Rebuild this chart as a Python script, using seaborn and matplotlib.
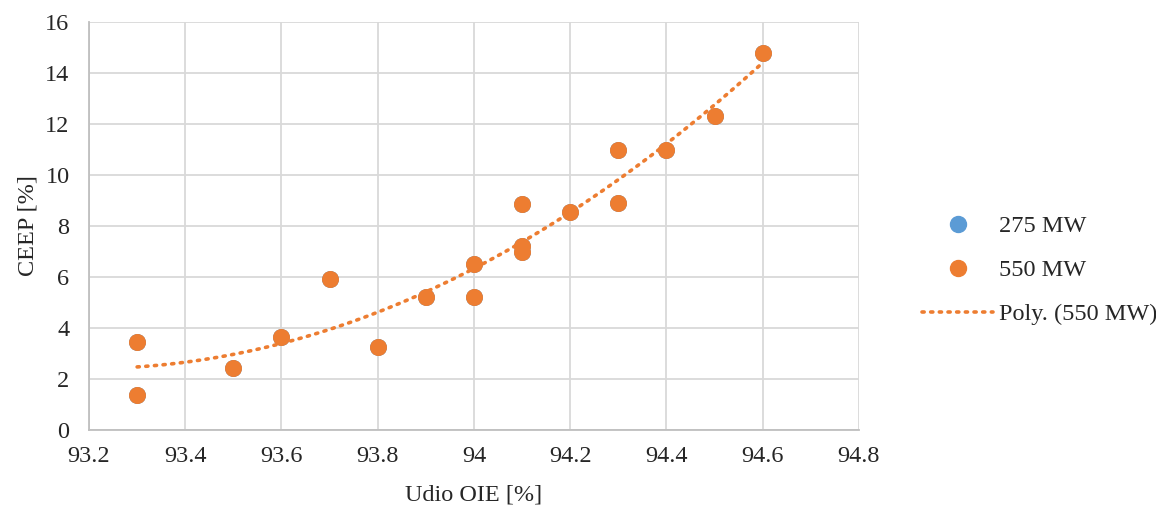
import matplotlib
matplotlib.use("Agg")
import matplotlib.pyplot as plt
from matplotlib.lines import Line2D
import pandas as pd
import seaborn as sns

# Udio OIE [%] and CEEP [%] for both plant sizes (275 MW sits under 550 MW)
udio_oie = [93.3, 93.3, 93.5, 93.6, 93.7, 93.8, 93.9, 94.0, 94.0,
            94.1, 94.1, 94.1, 94.2, 94.3, 94.3, 94.4, 94.5, 94.6]
ceep_275 = [3.45, 1.38, 2.43, 3.65, 5.93, 3.25, 5.2, 6.5, 5.2,
            8.86, 7.2, 6.98, 8.55, 10.97, 8.9, 10.97, 12.3, 14.77]
ceep_550 = [3.45, 1.38, 2.43, 3.65, 5.93, 3.25, 5.2, 6.5, 5.2,
            8.86, 7.2, 6.98, 8.55, 10.97, 8.9, 10.97, 12.3, 14.77]

BLUE = "#5B9BD5"
ORANGE = "#ED7D31"
FS = 17.5

sns.set_style("white")
plt.rcParams["font.family"] = ["Liberation Serif", "DejaVu Serif"]
plt.rcParams["font.size"] = FS

df_275 = pd.DataFrame({"x": udio_oie, "y": ceep_275})
df_550 = pd.DataFrame({"x": udio_oie, "y": ceep_550})

fig = plt.figure(figsize=(11.56, 5.08), dpi=100)
ax = fig.add_axes([0.077, 0.154, 0.666, 0.803])

sns.scatterplot(data=df_275, x="x", y="y", color=BLUE, s=150, linewidth=0, ax=ax, zorder=3)
sns.scatterplot(data=df_550, x="x", y="y", color=ORANGE, s=150, linewidth=0, ax=ax, zorder=4)
sns.regplot(data=df_550, x="x", y="y", order=2, ci=None, scatter=False, ax=ax,
            line_kws=dict(color=ORANGE, lw=2.6, linestyle=(0, (0.6, 1.8)),
                          dash_capstyle="round", zorder=5))

ax.set_xlim(93.2, 94.8)
ax.set_ylim(0, 16)
ax.set_xticks([93.2, 93.4, 93.6, 93.8, 94.0, 94.2, 94.4, 94.6, 94.8])
ax.set_xticklabels(["93.2", "93.4", "93.6", "93.8", "94", "94.2", "94.4", "94.6", "94.8"])
ax.set_yticks(range(0, 17, 2))
ax.grid(True, color="#d9d9d9", linewidth=1.3)
ax.set_axisbelow(True)
for side in ["top", "right"]:
    ax.spines[side].set_visible(False)
for side in ["left", "bottom"]:
    ax.spines[side].set_color("#bfbfbf")
    ax.spines[side].set_linewidth(1.3)
ax.tick_params(axis="x", length=0, pad=12, labelsize=FS)
ax.tick_params(axis="y", length=0, pad=14, labelsize=FS)
ax.set_xlabel("Udio OIE [%]", fontsize=FS, labelpad=12)
ax.set_ylabel("CEEP [%]", fontsize=FS, labelpad=5)

handles = [
    Line2D([], [], marker="o", color=BLUE, linestyle="none", markersize=11.5),
    Line2D([], [], marker="o", color=ORANGE, linestyle="none", markersize=11.5),
    Line2D([], [], color=ORANGE, lw=2.6, linestyle=(0, (0.6, 1.8)), dash_capstyle="round"),
]
fig.legend(handles, ["275 MW", "550 MW", "Poly. (550 MW)"], loc="center left",
           bbox_to_anchor=(0.779, 0.468), frameon=False, fontsize=FS,
           handlelength=2.9, labelspacing=0.9, handletextpad=0.25)

fig.savefig("out.png", dpi=100)
